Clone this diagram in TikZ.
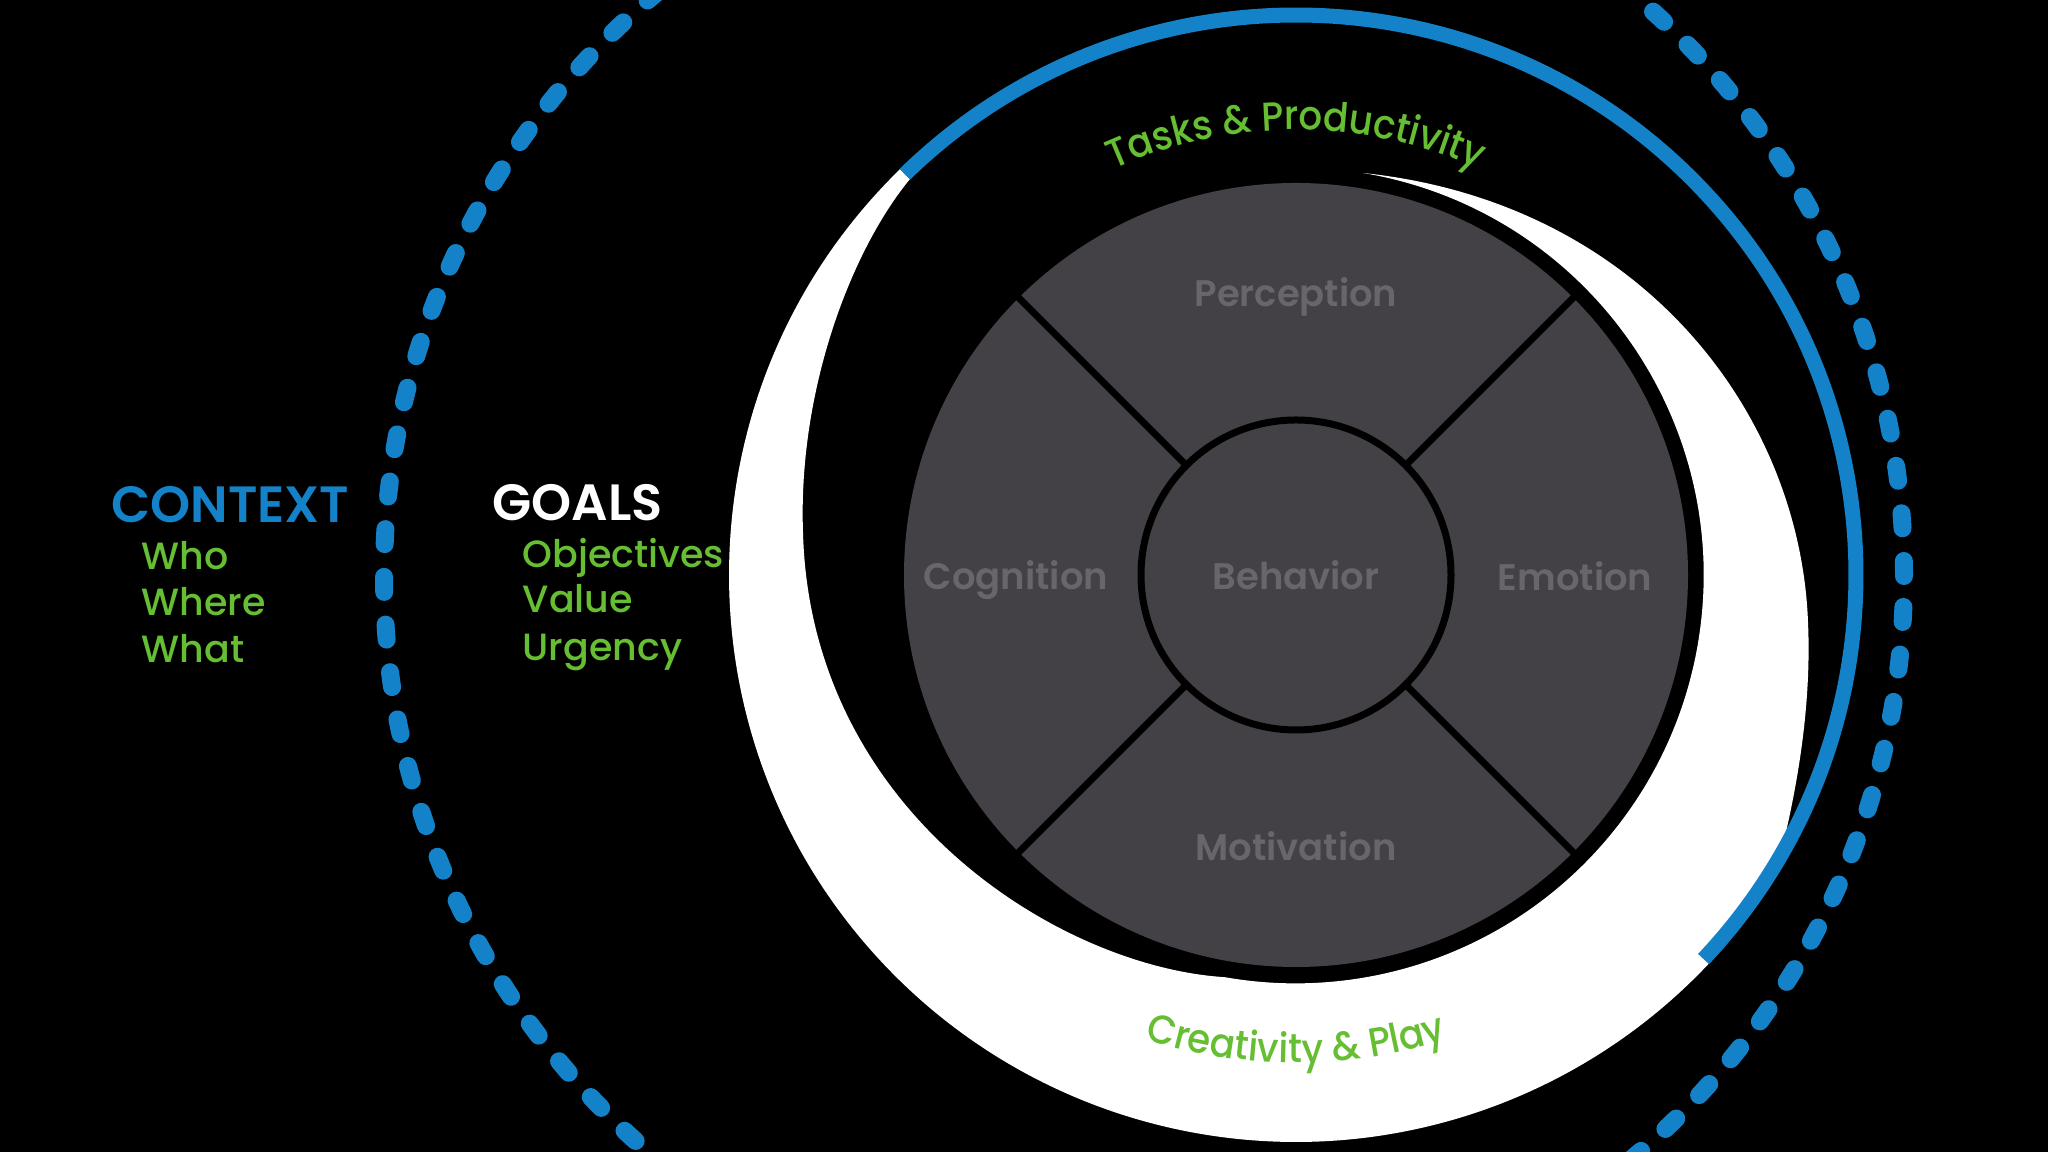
\documentclass[tikz,border=0pt]{standalone}
\usepackage{fontspec}
\setmainfont{Poppins}
\newfontfamily\medfont{Poppins Medium}
\newfontfamily\semifont{Poppins SemiBold}
\newfontfamily\arcface{Poppins Medium}[FakeStretch=0.92]
\usetikzlibrary{decorations.text}
\definecolor{ctxblue}{RGB}{20,130,200}
\definecolor{leafgreen}{RGB}{102,190,50}
\definecolor{diskgray}{RGB}{67,65,70}
\definecolor{labelgray}{RGB}{104,102,107}
\newcommand{\arcfont}{\arcface\fontsize{11.5}{13}\selectfont\color{leafgreen}}

\begin{document}
\begin{tikzpicture}[x=0.01cm, y=0.01cm]
            \tikzset{heading/.style={font=\semifont\fontsize{14.5}{16}\selectfont, anchor=west, inner sep=0pt},
                    item/.style={font=\medfont\fontsize{10.8}{13}\selectfont, text=leafgreen, anchor=west, inner sep=0pt},
                    sector/.style={font=\semifont\fontsize{10.5}{12}\selectfont, text=labelgray, inner sep=0pt},
                    divider/.style={line width=0.07cm, black}}
            \fill[black] (0,0) rectangle (2048,1152);
            \useasboundingbox (0,0) rectangle (2048,1152);
            \coordinate (core) at (1296,577);
            \coordinate (outer) at (1144,576);
            \draw[ctxblue, line width=0.18cm, line cap=round, dash pattern=on 0.15cm off 0.3275cm] (outer) circle[radius=760];
            \fill[white] ([shift={(134.3:553)}]core) -- ([shift={(134.3:567)}]core)
                arc[start angle=134.3, end angle=327.5, radius=567]
                .. controls (1795,350) and (1812,440) .. (1808,530)
                .. controls (1800,740) and (1640,950) .. (1363,979)
                arc[start angle=80.5, end angle=-100, radius=408]
                .. controls (1060,185) and (810,340) .. (803,620)
                .. controls (798,760) and (850,900) .. (910,973)
                -- cycle;
            \draw[ctxblue, line width=0.15cm] ([shift={(134.3:560)}]core) arc[start angle=134.3, end angle=-43.3, radius=560];
            \fill[diskgray] (core) circle[radius=392];
            \foreach \a in {45,135,225,315}
                \draw[divider] ([shift={(\a:155)}]core) -- ([shift={(\a:395)}]core);
            \draw[line width=0.07cm] (core) circle[radius=155];
            \node[sector] (behavior) at (core) {Behavior};
            \node[sector] (perception) at (1296,855) {Perception};
            \node[sector] (cognition) at (1016,572) {Cognition};
            \node[sector] (emotion) at (1575,576) {Emotion};
            \node[sector] (motivation) at (1296,306) {Motivation};
            \path[decorate, decoration={text along path, text align=center, text={|\arcfont|Tasks {\&} Productivity}}]
                ([shift={(152:445)}]core) arc[start angle=152, end angle=28, radius=445];
            \path[decorate, decoration={text along path, text align=center, text={|\arcfont|Creativity {\&} Play}}]
                ([shift={(-125:488)}]core) arc[start angle=-125, end angle=-55, radius=488];
            \node[heading, text=ctxblue] (context) at (111,647) {CONTEXT};
            \node[item] (who) at (141,596) {Who};
            \node[item] (where) at (141,550) {Where};
            \node[item] (what) at (141,503) {What};
            \node[heading, text=white] (goals) at (492,649) {GOALS};
            \node[item] (objectives) at (522,594) {Objectives};
            \node[item] (value) at (522,553) {Value};
            \node[item] (urgency) at (522,500) {Urgency};
        \end{tikzpicture}
\end{document}
